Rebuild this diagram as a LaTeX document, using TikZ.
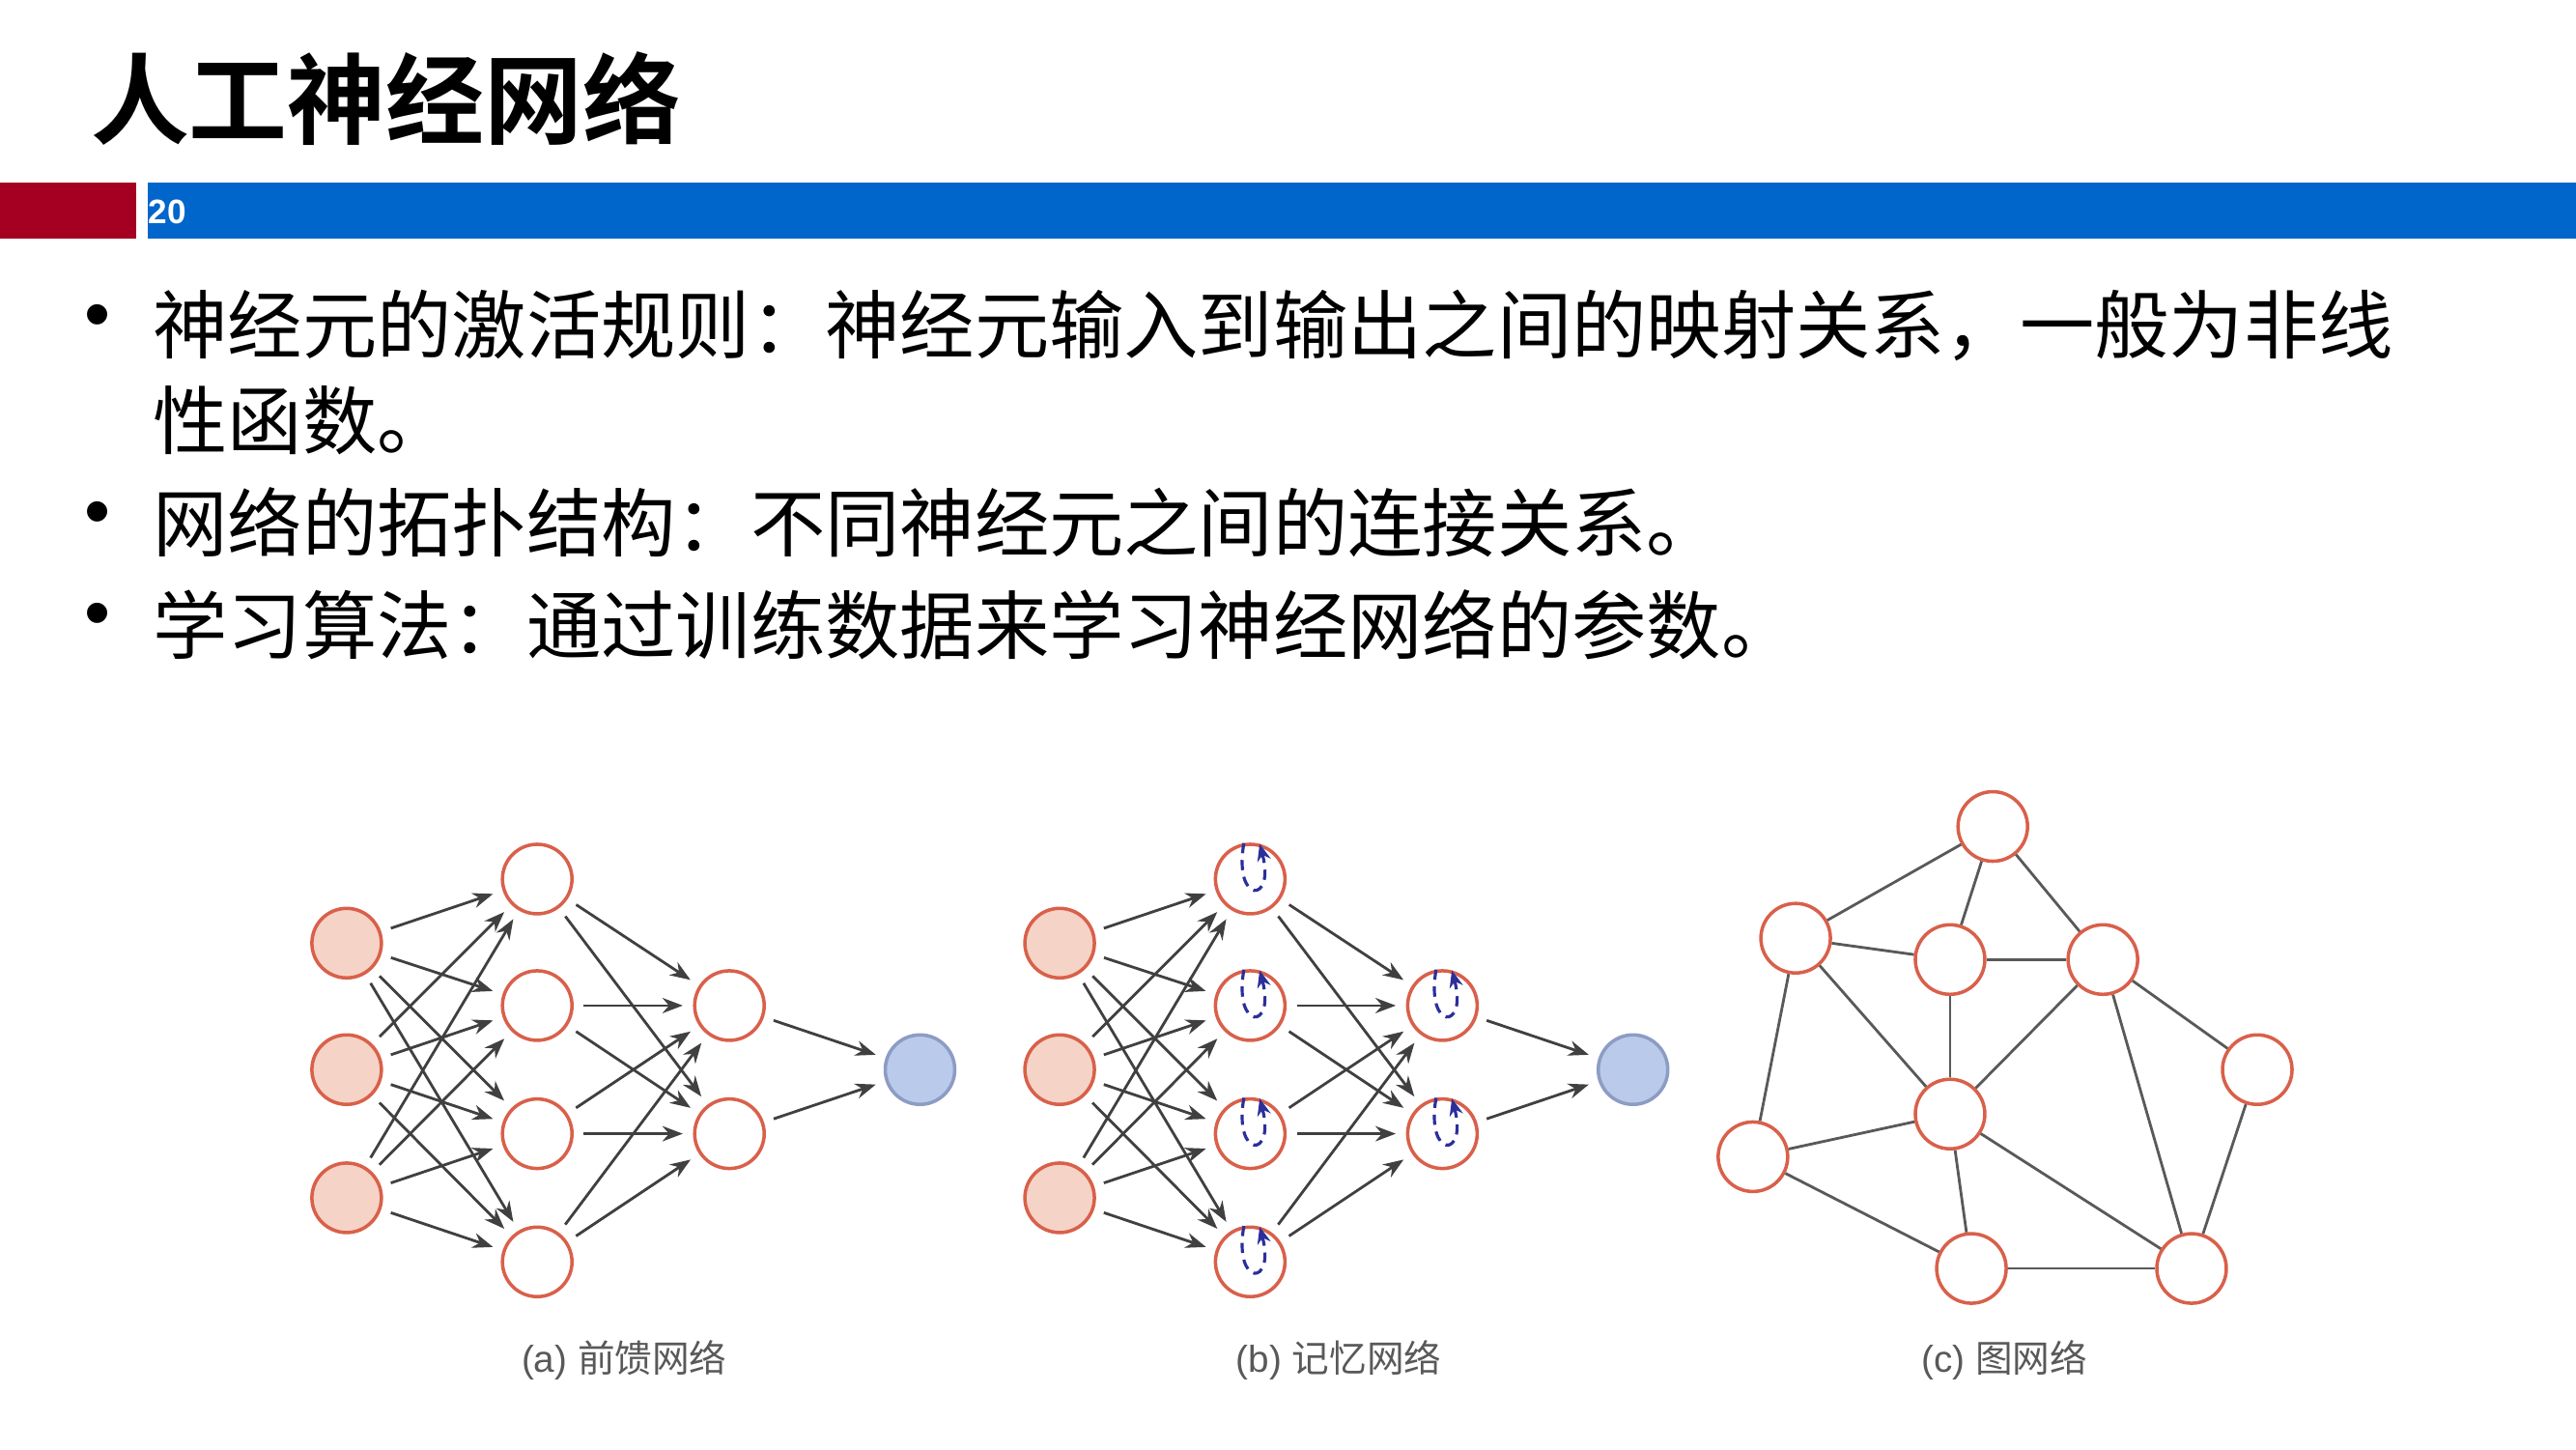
\documentclass[tikz,border=0pt]{standalone}
\usepackage{fontspec}
\setmainfont{Liberation Sans}
\newfontfamily\cjk{Noto Sans CJK SC}
\newfontfamily\cjkb{Noto Sans CJK SC Bold}
\usetikzlibrary{arrows.meta}
\definecolor{nred}{HTML}{D9604A}
\definecolor{nfill}{HTML}{F5D3C6}
\definecolor{ofill}{HTML}{BACAEA}
\definecolor{odraw}{HTML}{8C9CC4}
\definecolor{barred}{HTML}{A50021}
\definecolor{barblue}{HTML}{0066CC}
\definecolor{loopc}{HTML}{2B2F9A}
\begin{document}
\begin{tikzpicture}[x=0.017009cm,y=-0.017009cm,
  inp/.style={circle,draw=nred,fill=nfill,line width=1pt,minimum size=0.72cm,inner sep=0},
  hid/.style={circle,draw=nred,fill=white,line width=1pt,minimum size=0.72cm,inner sep=0},
  outn/.style={circle,draw=odraw,fill=ofill,line width=1pt,minimum size=0.72cm,inner sep=0},
  arr/.style={-{Stealth[length=6pt,width=4.5pt]},draw=black!75,line width=0.8pt,shorten <=3pt,shorten >=3pt},
  gedge/.style={draw=black!65,line width=0.8pt},
  selfloop/.style={dashed,dash pattern=on 3pt off 2pt,draw=loopc,line width=0.9pt,-{Stealth[length=5pt,width=4pt]}},
  captext/.style={text=black!65,font=\fontsize{11}{13}\selectfont},
  bul/.style={anchor=west,font=\cjk\fontsize{22}{26}\selectfont}]
\useasboundingbox (0,0) rectangle (1568,882);
\fill[white] (0,0) rectangle (1568,882);
\node[anchor=west,font=\cjkb\fontsize{29}{32}\selectfont] (title) at (48,60) {人工神经网络};
\fill[barred] (0,111) rectangle (83,145);
\fill[barblue] (90,111) rectangle (1568,145);
\node[anchor=west,inner sep=0,text=white,font=\bfseries\fontsize{10}{12}\selectfont] (pg) at (90,129) {20};
\node[anchor=west,font=\fontsize{22}{26}\selectfont] (b1) at (44,196) {•};
\node[anchor=west,font=\fontsize{22}{26}\selectfont] (b2) at (44,316) {•};
\node[anchor=west,font=\fontsize{22}{26}\selectfont] (b3) at (44,378) {•};
\node[bul] (t1) at (86,198) {神经元的激活规则：神经元输入到输出之间的映射关系，一般为非线};
\node[bul] (t1b) at (86,256) {性函数。};
\node[bul] (t2) at (86,318) {网络的拓扑结构：不同神经元之间的连接关系。};
\node[bul] (t3) at (86,380) {学习算法：通过训练数据来学习神经网络的参数。};
% networks a and b
\foreach \p/\dx in {a/0,b/434}{
  \foreach \i/\yy in {1/574,2/651,3/729} \node[inp] (\p i\i) at (211+\dx,\yy) {};
  \foreach \i/\yy in {1/535,2/612,3/690,4/768} \node[hid] (\p h\i) at (327+\dx,\yy) {};
  \foreach \i/\yy in {1/612,2/690} \node[hid] (\p g\i) at (444+\dx,\yy) {};
  \node[outn] (\p o) at (560+\dx,651) {};
  \foreach \i in {1,2,3} \foreach \j in {1,2,3,4} \draw[arr] (\p i\i) -- (\p h\j);
  \foreach \i in {1,2,3,4} \foreach \j in {1,2} \draw[arr] (\p h\i) -- (\p g\j);
  \foreach \j in {1,2} \draw[arr] (\p g\j) -- (\p o);
}
\foreach \n in {bh1,bh2,bh3,bh4,bg1,bg2}
  \draw[selfloop] (\n.100) .. controls +(100:38) and +(75:38) .. (\n.75);
\node[captext] (ca) at (380,828) {(a) {\cjk 前馈网络}};
\node[captext] (cb) at (815,828) {(b) {\cjk 记忆网络}};
% graph c
\foreach \n/\xx/\yy in {A/1213/503,B/1093/571,C/1187/584,D/1280/584,E/1374/651,F/1187/678,G/1067/704,H/1200/772,I/1334/772}
  \node[hid] (c\n) at (\xx,\yy) {};
\foreach \u/\v in {A/B,A/C,A/D,B/C,C/D,B/F,B/G,C/F,D/F,D/I,D/E,E/I,G/F,G/H,F/H,F/I,H/I}
  \draw[gedge] (c\u) -- (c\v);
\node[captext] (cc) at (1220,828) {(c) {\cjk 图网络}};
\end{tikzpicture}
\end{document}
